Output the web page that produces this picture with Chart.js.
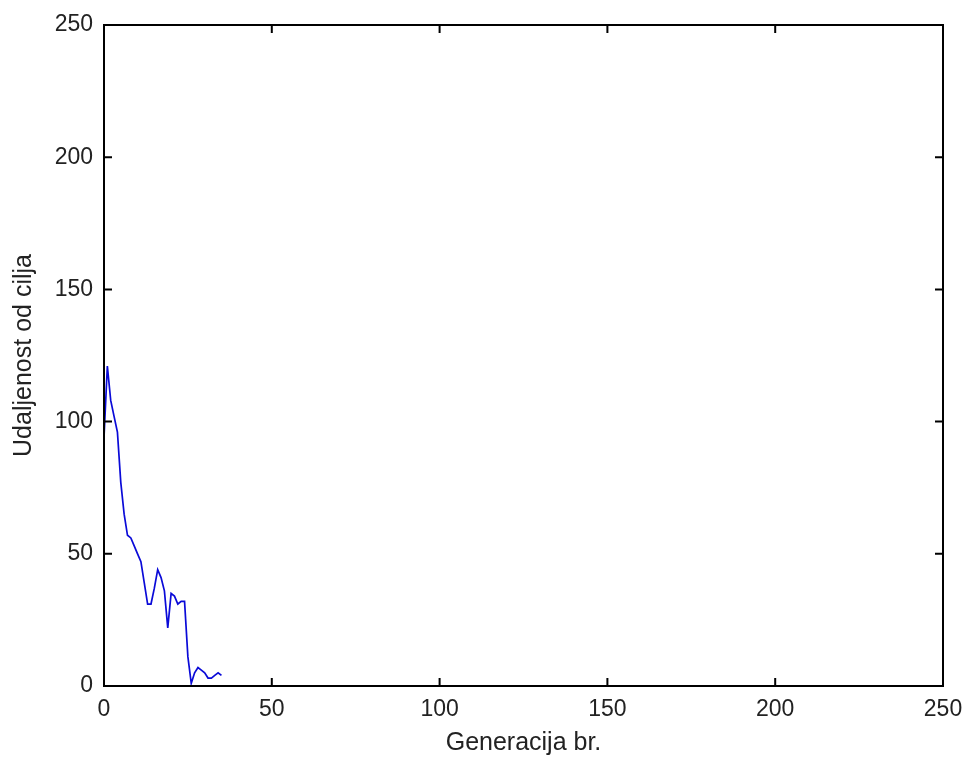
<!DOCTYPE html>
<html>
<head>
<meta charset="utf-8">
<script src="https://cdn.jsdelivr.net/npm/chart.js@4"></script>
<style>
  body { margin: 0; background: #fff; }
  canvas { display: block; }
</style>
</head>
<body>
<canvas id="myChart" width="968" height="758"></canvas>
<script>
// generacije i udaljenost od cilja (očitano sa slike)
const generations = [0, 1, 2, 3, 4, 5, 6, 7, 8, 9, 10, 11, 12, 13, 14, 15, 16, 17,
  18, 19, 20, 21, 22, 23, 24, 25, 26, 27, 28, 29, 30, 31, 32, 33, 34, 35];
const distance = [94, 121, 108, 102, 96, 77, 65, 57, 56, 53, 50, 47, 39, 31, 31, 37, 44, 41,
  36, 22, 35, 34, 31, 32, 32, 11, 1, 5, 7, 6, 5, 3, 3, 4, 5, 4];
const xTicks = [0, 50, 100, 150, 200, 250];
const yTicks = [0, 50, 100, 150, 200, 250];

const tickFont = { family: "'Liberation Sans', Arial, sans-serif", size: 23 };
const labelFont = { family: "'Liberation Sans', Arial, sans-serif", size: 25 };

// okvir i unutrasnje crtice kao u MATLAB-u
const framePlugin = {
  id: "frame",
  afterDraw(chart) {
    const { ctx, chartArea: a, scales } = chart;
    ctx.save();
    ctx.strokeStyle = "#000";
    ctx.lineWidth = 2;
    ctx.strokeRect(a.left, a.top, a.right - a.left, a.bottom - a.top);
    const len = 8;
    ctx.beginPath();
    xTicks.forEach((v) => {
      const px = scales.x.getPixelForValue(v);
      ctx.moveTo(px, a.bottom); ctx.lineTo(px, a.bottom - len);
      ctx.moveTo(px, a.top); ctx.lineTo(px, a.top + len);
    });
    yTicks.forEach((v) => {
      const py = scales.y.getPixelForValue(v);
      ctx.moveTo(a.left, py); ctx.lineTo(a.left + len, py);
      ctx.moveTo(a.right, py); ctx.lineTo(a.right - len, py);
    });
    ctx.stroke();
    ctx.restore();
  },
};

var ctx = document.getElementById("myChart").getContext("2d");

var myChart = new Chart(ctx, {
  type: "line",
  data: {
    datasets: [
      {
        label: "",
        data: generations.map((g, i) => ({ x: g, y: distance[i] })),
        borderColor: "#0a0ad8",
        borderWidth: 1.7,
        pointRadius: 0,
        tension: 0,
        fill: false,
      },
    ],
  },
  options: {
    responsive: false,
    animation: false,
    devicePixelRatio: 1,
    layout: { padding: { left: 0, right: 25, top: 25, bottom: 0 } },
    plugins: {
      legend: { display: false },
      tooltip: { enabled: false },
    },
    scales: {
      x: {
        type: "linear",
        min: 0,
        max: 250,
        afterFit: (scale) => { scale.height = 72; },
        afterBuildTicks: (scale) => { scale.ticks = xTicks.map((v) => ({ value: v })); },
        grid: { display: false },
        border: { display: false },
        ticks: { font: tickFont, color: "#222", padding: 2, maxRotation: 0 },
        title: {
          display: true,
          text: "Generacija br.",
          font: labelFont,
          color: "#222",
          padding: { top: 3, bottom: 0 },
        },
      },
      y: {
        min: 0,
        max: 250,
        afterFit: (scale) => { scale.width = 104; },
        afterBuildTicks: (scale) => { scale.ticks = yTicks.map((v) => ({ value: v })); },
        grid: { display: false },
        border: { display: false },
        ticks: { font: tickFont, color: "#222", padding: 3 },
        title: {
          display: true,
          text: "Udaljenost od cilja",
          font: labelFont,
          color: "#222",
          padding: { top: 9, bottom: 0 },
        },
      },
    },
  },
  plugins: [framePlugin],
});
</script>
</body>
</html>
